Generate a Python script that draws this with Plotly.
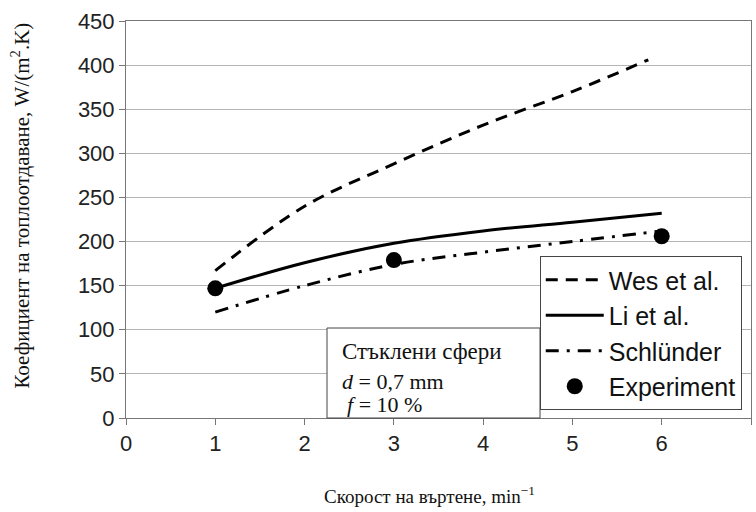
import plotly.graph_objects as go

# Data
x_wes = [1, 2, 3, 4, 5, 5.85]
y_wes = [167, 240, 288, 332, 370, 406]

x_li = [1, 2, 3, 4, 5, 6]
y_li = [147, 176, 198, 212, 222, 232]

x_sch = [1, 2, 3, 4, 5, 6]
y_sch = [120, 150, 174, 188, 200, 212]

x_exp = [1, 3, 6]
y_exp = [147, 179, 206]

names = ["Wes et al.", "Li et al.", "Schlünder", "Experiment"]

fig = go.Figure()
fig.add_trace(go.Scatter(x=x_wes, y=y_wes, mode="lines", name=names[0], legendgroup="a",
                         line=dict(color="black", width=3, dash="12px,8px", shape="spline")))
fig.add_trace(go.Scatter(x=x_li, y=y_li, mode="lines", name=names[1], legendgroup="b",
                         line=dict(color="black", width=3, shape="spline")))
fig.add_trace(go.Scatter(x=x_sch, y=y_sch, mode="lines", name=names[2], legendgroup="c",
                         line=dict(color="black", width=3, dash="13px,8px,3px,8px", shape="spline")))
fig.add_trace(go.Scatter(x=x_exp, y=y_exp, mode="markers", name=names[3], legendgroup="d",
                         marker=dict(color="black", size=16, symbol="circle")))

serif = "Liberation Serif, Times New Roman, serif"
sans = "Liberation Sans, Arial, sans-serif"

fig.update_layout(
    width=756, height=512,
    margin=dict(l=126, r=5, t=21, b=94),
    paper_bgcolor="white", plot_bgcolor="white",
    showlegend=True,
    legend=dict(x=0.662, y=0.408, xanchor="left", yanchor="top",
                bgcolor="white", bordercolor="#444", borderwidth=1,
                font=dict(family=sans, size=25, color="#111"),
                tracegroupgap=13, itemwidth=58, traceorder="normal"),
    xaxis=dict(range=[0, 7], dtick=1, showgrid=False, showline=True, linecolor="#777",
               linewidth=1, mirror=True, ticks="outside", ticklen=6, tickcolor="#777",
               tickfont=dict(family=sans, size=22, color="#222"), zeroline=False),
    yaxis=dict(range=[0, 450], dtick=50, showgrid=True, gridcolor="#b5b5b5", gridwidth=1,
               showline=True, linecolor="#777", linewidth=1, mirror=True,
               ticks="outside", ticklen=6, tickcolor="#777", zeroline=False,
               tickfont=dict(family=sans, size=22, color="#222")),
)

# Axis titles
fig.add_annotation(xref="paper", yref="paper", x=-0.168, y=0.535, xanchor="center", yanchor="middle",
                   text="Коефициент на топлоотдаване, W/(m<sup>2</sup>.K)", textangle=-90,
                   showarrow=False, font=dict(family=serif, size=21, color="#111"))
fig.add_annotation(xref="paper", yref="paper", x=0.486, y=-0.194, xanchor="center", yanchor="middle",
                   text="Скорост на въртене, min<sup>−1</sup>",
                   showarrow=False, font=dict(family=serif, size=19, color="#111"))

# Info box
fig.add_shape(type="rect", xref="paper", yref="paper", x0=0.3216, x1=0.6624, y0=0.0, y1=0.2267,
              line=dict(color="#444", width=1), fillcolor="white", layer="above")
fig.add_annotation(xref="paper", yref="paper", x=0.343, y=0.167, xanchor="left", yanchor="middle",
                   text="Стъклени сфери", showarrow=False,
                   font=dict(family=serif, size=23, color="#111"))
fig.add_annotation(xref="paper", yref="paper", x=0.343, y=0.092, xanchor="left", yanchor="middle",
                   text="<i>d</i> = 0,7 mm", showarrow=False,
                   font=dict(family=serif, size=22, color="#111"))
fig.add_annotation(xref="paper", yref="paper", x=0.35, y=0.033, xanchor="left", yanchor="middle",
                   text="<i>f</i> = 10 %", showarrow=False,
                   font=dict(family=serif, size=22, color="#111"))

fig.write_html("out.html")
